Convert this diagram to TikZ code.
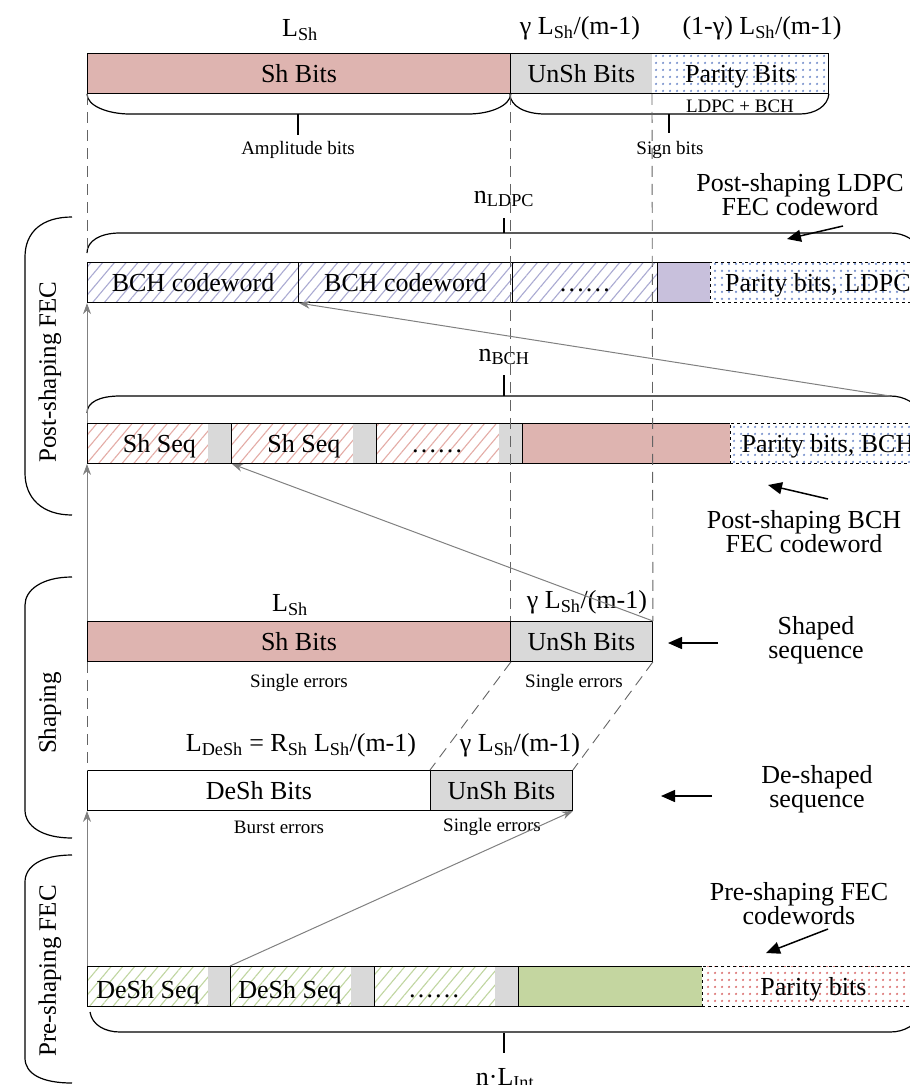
\documentclass[tikz,border=0pt]{standalone}
\usepackage{fontspec}
\setmainfont{Liberation Serif}
\usetikzlibrary{patterns.meta,arrows.meta}
\newcommand\fbig{\fontsize{26}{24}\selectfont}
\newcommand\fsm{\fontsize{19}{21}\selectfont}
\newcommand\frot{\fontsize{25}{27}\selectfont}
\newcommand\sbs[1]{\textsubscript{#1}}
\definecolor{shpink}{RGB}{222,180,176}
\definecolor{unshgray}{RGB}{217,217,217}
\definecolor{lav}{RGB}{200,192,220}
\definecolor{grn}{RGB}{196,214,160}
\definecolor{lavline}{RGB}{170,170,210}
\definecolor{pinkline}{RGB}{228,172,166}
\definecolor{grnline}{RGB}{192,214,160}
\definecolor{bluedot}{RGB}{120,145,205}
\definecolor{reddot}{RGB}{220,115,115}
\definecolor{arrgray}{RGB}{128,128,128}
\definecolor{guidegray}{RGB}{100,100,100}
\tikzset{
  cell/.style={draw=black, line width=0.9pt, minimum height=40pt, inner sep=0pt, anchor=north west, font=\fbig, text height=21pt, text depth=3pt},
  hatchL/.style={preaction={fill=white}, pattern={Lines[angle=50,distance=9pt,line width=1.1pt]}, pattern color=lavline},
  hatchP/.style={preaction={fill=white}, pattern={Lines[angle=50,distance=9pt,line width=1.1pt]}, pattern color=pinkline},
  hatchG/.style={preaction={fill=white}, pattern={Lines[angle=50,distance=9pt,line width=1.1pt]}, pattern color=grnline},
  dotsB/.style={preaction={fill=white}, pattern={Dots[radius=1.3pt,distance=6.5pt]}, pattern color=bluedot},
  dotsR/.style={preaction={fill=white}, pattern={Dots[radius=1.3pt,distance=6.5pt]}, pattern color=reddot},
  lbl/.style={font=\fbig, inner sep=0pt},
  small/.style={font=\fsm, inner sep=0pt},
  rotlbl/.style={font=\frot, inner sep=0pt, rotate=90},
  guide/.style={draw=guidegray, line width=0.9pt, dash pattern=on 11pt off 7pt},
  garrow/.style={draw=arrgray, line width=1pt, -{Stealth[length=11pt,width=8pt]}},
  karrow/.style={draw=black, line width=1.5pt, -{Triangle[length=14pt,width=12pt]}},
  brace/.style={draw=black, line width=1.2pt},
  strip/.style={fill=unshgray},
}
\begin{document}
\begin{tikzpicture}[x=1pt,y=-1pt]
\useasboundingbox (0,0) rectangle (910,1085);
\clip (0,0) rectangle (910,1085);

% ---------- top row ----------
\node[lbl] (tl1) at (300,30) {L\sbs{Sh}};
\node[lbl] (tl2) at (580,28) {γ L\sbs{Sh}/(m-1)};
\node[lbl] (tl3) at (762,28) {(1-γ) L\sbs{Sh}/(m-1)};
\node[cell, fill=shpink, minimum width=423pt] (t1) at (87,53) {Sh Bits};
\node[cell, fill=unshgray, minimum width=142pt] (t2) at (510,53) {UnSh Bits};
\node[cell, draw=none, dotsB, minimum width=176pt] (t3) at (652,53) {Parity Bits};
\draw[line width=0.9pt] (t3.north west) -- (t3.north east) -- (t3.south east) -- (t3.south west);
\draw[brace] (t1.south west) .. controls (87,106) and (108,114) .. (130,114) -- (468,114) .. controls (490,114) and (510,106) .. (t1.south east);
\draw[brace] (t2.south west) .. controls (510,106) and (525,114) .. (545,114) -- (800,114) .. controls (815,114) and (828,106) .. (t3.south east);
\draw[brace] (298,114) -- (298,135);
\draw[brace] (669,114) -- (669,133);
\node[small] (ldpcbch) at (740,106) {LDPC + BCH};
\node[small] (amp) at (298,150) {Amplitude bits};
\node[small] (sign) at (670,150) {Sign bits};

% ---------- LDPC codeword ----------
\node[lbl] (nldpc) at (504,199) {n\sbs{LDPC}};
\draw[brace] (504,218) -- (504,233);
\draw[brace] (87,253) .. controls (87,241) and (100,233) .. (120,233) -- (890,233) .. controls (905,233) and (915,240) .. (925,253);
\node[cell, hatchL, minimum width=211pt] (l1) at (87,262) {BCH codeword};
\node[cell, hatchL, minimum width=214pt] (l2) at (298,262) {BCH codeword};
\node[cell, hatchL, minimum width=145pt] (l3) at (512,262) {……};
\node[cell, fill=lav, minimum width=53pt] (l4) at (657,262) {};
\node[cell, dotsB, dashed, minimum width=215pt] (l5) at (710,262) {Parity bits, LDPC};

% ---------- BCH codeword ----------
\node[lbl] (nbch) at (504,357) {n\sbs{BCH}};
\draw[brace] (504,375) -- (504,396);
\draw[brace] (87,413) .. controls (87,402) and (100,396) .. (120,396) -- (890,396) .. controls (905,396) and (915,403) .. (925,415);
\coordinate (bchcorner) at (890,396);
\node[cell, hatchP, minimum width=144pt] (b1) at (87,423) {Sh Seq};
\node[cell, hatchP, minimum width=145pt] (b2) at (231,423) {Sh Seq};
\node[cell, hatchP, minimum width=146pt] (b3) at (376,423) {};
\node[lbl, anchor=base] (b3t) at (437,452) {……};
\fill[strip] ([xshift=-24pt]b1.north east) rectangle (b1.south east);
\fill[strip] ([xshift=-24pt]b2.north east) rectangle (b2.south east);
\fill[strip] ([xshift=-24pt]b3.north east) rectangle (b3.south east);
\draw[line width=0.9pt] (b1.north west) rectangle (b1.south east);
\draw[line width=0.9pt] (b2.north west) rectangle (b2.south east);
\draw[line width=0.9pt] (b3.north west) rectangle (b3.south east);
\node[cell, fill=shpink, minimum width=208pt] (b4) at (522,423) {};
\node[cell, dotsB, dashed, minimum width=195pt] (b5) at (730,423) {Parity bits, BCH};

% ---------- shaped sequence ----------
\node[lbl] (sl1) at (290,605) {L\sbs{Sh}};
\node[lbl] (sl2) at (587,602) {γ L\sbs{Sh}/(m-1)};
\node[cell, fill=shpink, minimum width=423pt] (s1) at (87,621) {Sh Bits};
\node[cell, fill=unshgray, minimum width=142pt] (s2) at (510,621) {UnSh Bits};
\node[small] (se1) at (299,683) {Single errors};
\node[small] (se2) at (574,683) {Single errors};

% ---------- de-shaped sequence ----------
\node[lbl] (dl1) at (301,745) {L\sbs{DeSh} = R\sbs{Sh} L\sbs{Sh}/(m-1)};
\node[lbl] (dl2) at (520,745) {γ L\sbs{Sh}/(m-1)};
\node[cell, fill=white, minimum width=343pt] (d1) at (87,770) {DeSh Bits};
\node[cell, fill=unshgray, minimum width=142pt] (d2) at (430,770) {UnSh Bits};
\node[small] (be) at (279,827) {Burst errors};
\node[small] (se3) at (492,827) {Single errors};

% ---------- pre-shaping codewords ----------
\node[cell, hatchG, minimum width=143pt] (p1) at (87,966) {};
\node[cell, hatchG, minimum width=144pt] (p2) at (230,966) {};
\node[cell, hatchG, minimum width=144pt] (p3) at (374,966) {};
\fill[strip] ([xshift=-23pt]p1.north east) rectangle (p1.south east);
\fill[strip] ([xshift=-24pt]p2.north east) rectangle (p2.south east);
\fill[strip] ([xshift=-24pt]p3.north east) rectangle (p3.south east);
\draw[line width=0.9pt] (p1.north west) rectangle (p1.south east);
\draw[line width=0.9pt] (p2.north west) rectangle (p2.south east);
\draw[line width=0.9pt] (p3.north west) rectangle (p3.south east);
\node[lbl, anchor=base] (p1t) at (148,998) {DeSh Seq};
\node[lbl, anchor=base] (p2t) at (290,998) {DeSh Seq};
\node[lbl, anchor=base] (p3t) at (434,997) {……};
\node[cell, fill=grn, minimum width=184pt] (p4) at (518,966) {};
\node[cell, dotsR, dashed, minimum width=222pt] (p5) at (702,966) {Parity bits};
\draw[brace] (90,1012) .. controls (92,1025) and (105,1032) .. (120,1032) -- (890,1032) .. controls (905,1032) and (915,1025) .. (925,1012);
\draw[brace] (504,1033) -- (504,1053);
\node[lbl, anchor=north] (nlint) at (505,1068) {n·L\sbs{Int}};

% ---------- dashed guides ----------
\coordinate (g1) at (87,253);
\draw[guide] (t1.south west) -- (g1);
\draw[guide] (t1.south east) -- (s1.north east);
\draw[guide] (t3.south west) -- (s2.north east);
\draw[guide] (s1.south west) -- (d1.north west);
\draw[guide] (s1.south east) -- (d2.north west);
\draw[guide] (s2.south east) -- (d2.north east);

% ---------- gray flow arrows ----------
\draw[garrow] (p1.north west) -- (d1.south west);
\draw[garrow] (s1.north west) -- (b1.south west);
\draw[garrow] (b1.north west) -- (l1.south west);
\draw[garrow] (bchcorner) -- (l1.south east);
\draw[garrow] (s2.north east) -- (b1.south east);
\draw[garrow] (p2.north west) -- (d2.south east);

% ---------- right side labels ----------
\node[lbl, align=center] (rl1) at (800,195) {Post-shaping LDPC\\FEC codeword};
\coordinate (a1s) at (843,226); \coordinate (a1e) at (787,239);
\draw[karrow] (a1s) -- (a1e);
\node[lbl, align=center] (rl2) at (804,532) {Post-shaping BCH\\FEC codeword};
\coordinate (a2s) at (828,499); \coordinate (a2e) at (768,485);
\draw[karrow] (a2s) -- (a2e);
\node[lbl, align=center] (rl3) at (816,640) {Shaped\\sequence};
\coordinate (a3s) at (718,643); \coordinate (a3e) at (668,643);
\draw[karrow] (a3s) -- (a3e);
\node[lbl, align=center] (rl4) at (817,789) {De-shaped\\sequence};
\coordinate (a4s) at (712,796); \coordinate (a4e) at (661,796);
\draw[karrow] (a4s) -- (a4e);
\node[lbl, align=center] (rl5) at (799,904) {Pre-shaping FEC\\codewords};
\coordinate (a5s) at (828,929); \coordinate (a5e) at (766,953);
\draw[karrow] (a5s) -- (a5e);

% ---------- left braces ----------
\draw[brace] (72,217) .. controls (42,217) and (25,232) .. (25,257) -- (25,473) .. controls (25,498) and (42,515) .. (72,515);
\node[rotlbl] (postfec) at (50,372) {Post-shaping FEC};
\draw[brace] (72,577) .. controls (42,577) and (25,590) .. (25,605) -- (25,810) .. controls (25,826) and (42,838) .. (72,838);
\node[rotlbl] (shaping) at (50,713) {Shaping};
\draw[brace] (72,855) .. controls (42,855) and (25,866) .. (25,882) -- (25,1058) .. controls (25,1074) and (42,1083) .. (72,1083);
\node[rotlbl] (prefec) at (50,971) {Pre-shaping FEC};
\end{tikzpicture}
\end{document}
